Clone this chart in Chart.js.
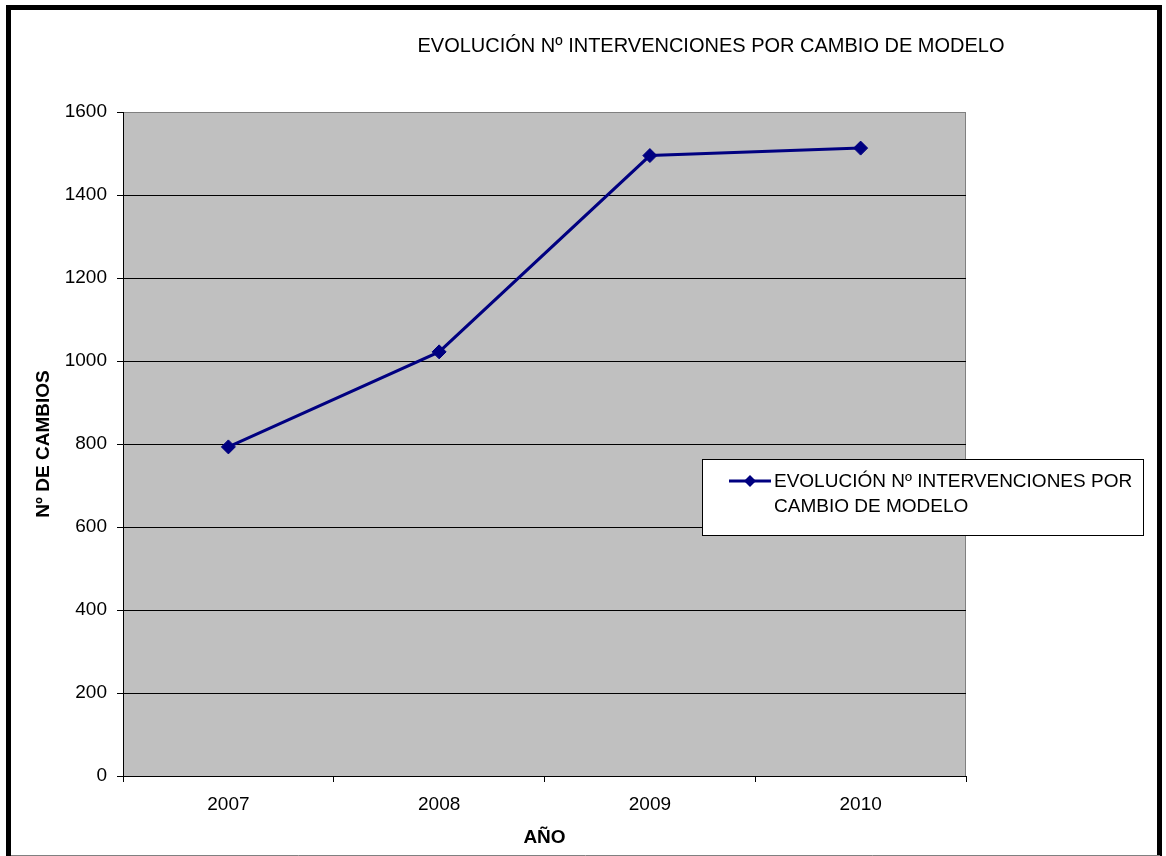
<!DOCTYPE html>
<html>
<head>
<meta charset="utf-8">
<script src="https://cdn.jsdelivr.net/npm/chart.js@4/dist/chart.umd.min.js"></script>
<style>
  html, body { margin: 0; padding: 0; background: #fff; }
  #wrap { width: 1166px; height: 856px; }
</style>
</head>
<body>
<div id="wrap"><canvas id="evolChart"></canvas></div>
<script>
const years = ["2007", "2008", "2009", "2010"];
const interventions = [793, 1022, 1495, 1513];
const yTicks = [0, 200, 400, 600, 800, 1000, 1200, 1400, 1600];

const chartTitle = "EVOLUCIÓN Nº INTERVENCIONES POR CAMBIO DE MODELO";
const seriesLabel = "EVOLUCIÓN Nº INTERVENCIONES POR CAMBIO DE MODELO";
const xTitle = "AÑO";
const yTitle = "Nº DE CAMBIOS";

const FONT = "'Liberation Sans', Arial, sans-serif";
const NAVY = "#000080";

// wrap a label into lines that fit maxWidth
function wrapText(ctx, text, maxWidth) {
  const words = text.split(" ");
  const lines = [];
  let line = "";
  for (const w of words) {
    const test = line ? line + " " + w : w;
    if (ctx.measureText(test).width > maxWidth && line) {
      lines.push(line);
      line = w;
    } else {
      line = test;
    }
  }
  if (line) lines.push(line);
  return lines;
}

// excel-like frame: white page, grey plot area, title, boxed legend
const excelFrame = {
  id: "excelFrame",
  beforeDraw(chart) {
    const { ctx, chartArea: a, width, height } = chart;
    ctx.save();
    ctx.fillStyle = "#fff";
    ctx.fillRect(0, 0, width, height);
    ctx.fillStyle = "#c0c0c0";
    ctx.fillRect(a.left, a.top, a.right - a.left, a.bottom - a.top);
    ctx.strokeStyle = "#808080";
    ctx.lineWidth = 1;
    ctx.strokeRect(a.left + 0.5, a.top + 0.5, a.right - a.left - 1, a.bottom - a.top);

    ctx.fillStyle = "#000";
    ctx.font = "20px " + FONT;
    ctx.textAlign = "center";
    ctx.textBaseline = "middle";
    ctx.fillText(chartTitle, 711, 46);
    ctx.restore();
  },
  afterDraw(chart) {
    const { ctx, width, height } = chart;
    const ds = chart.data.datasets[0];
    ctx.save();

    // legend box
    const bx = 702, by = 459, bw = 441, bh = 76;
    ctx.fillStyle = "#fff";
    ctx.fillRect(bx, by, bw, bh);
    ctx.strokeStyle = "#000";
    ctx.lineWidth = 1;
    ctx.strokeRect(bx + 0.5, by + 0.5, bw, bh);

    ctx.strokeStyle = ds.borderColor;
    ctx.lineWidth = 3;
    ctx.beginPath();
    ctx.moveTo(729, 481);
    ctx.lineTo(771, 481);
    ctx.stroke();
    const r = 6;
    ctx.fillStyle = ds.pointBackgroundColor;
    ctx.beginPath();
    ctx.moveTo(750, 481 - r);
    ctx.lineTo(750 + r, 481);
    ctx.lineTo(750, 481 + r);
    ctx.lineTo(750 - r, 481);
    ctx.closePath();
    ctx.fill();

    ctx.fillStyle = "#000";
    ctx.font = "19px " + FONT;
    ctx.textAlign = "left";
    ctx.textBaseline = "middle";
    wrapText(ctx, ds.label, 366).forEach((line, i) => {
      ctx.fillText(line, 774, 482 + i * 25);
    });

    // outer black frame
    ctx.strokeStyle = "#000";
    ctx.lineWidth = 5;
    ctx.strokeRect(8.5, 7.5, width - 15, height + 20);
    ctx.strokeStyle = "#808080";
    ctx.lineWidth = 1;
    ctx.beginPath();
    ctx.moveTo(11, height - 0.5);
    ctx.lineTo(width - 6, height - 0.5);
    ctx.stroke();
    ctx.restore();
  },
};

new Chart(document.getElementById("evolChart"), {
  type: "line",
  data: {
    labels: years,
    datasets: [
      {
        label: seriesLabel,
        data: interventions,
        borderColor: NAVY,
        borderWidth: 3,
        tension: 0,
        pointStyle: "rectRot",
        pointRadius: 7,
        pointBorderWidth: 1,
        pointBackgroundColor: NAVY,
        pointBorderColor: NAVY,
      },
    ],
  },
  plugins: [excelFrame],
  options: {
    responsive: true,
    maintainAspectRatio: false,
    animation: false,
    layout: { padding: { left: 26, top: 112, right: 200, bottom: 0 } },
    plugins: {
      legend: { display: false },
      title: { display: false },
      tooltip: { enabled: false },
    },
    scales: {
      x: {
        offset: true,
        afterFit: (s) => { s.height = 80; },
        grid: {
          offset: true,
          drawOnChartArea: false,
          drawTicks: true,
          tickLength: 6,
          tickColor: "#000",
        },
        border: { display: true, color: "#000", width: 1 },
        ticks: {
          color: "#000",
          font: { family: FONT, size: 19 },
          padding: 11,
          maxRotation: 0,
        },
        title: {
          display: true,
          text: xTitle,
          color: "#000",
          font: { family: FONT, size: 19, weight: "bold" },
          padding: { top: 0, bottom: 7 },
        },
      },
      y: {
        min: yTicks[0],
        max: yTicks[yTicks.length - 1],
        afterFit: (s) => { s.width = 97; },
        afterBuildTicks: (s) => { s.ticks = yTicks.map((v) => ({ value: v })); },
        grid: {
          color: (c) => (c.tick && c.tick.value === 1600 ? "#808080" : "#000"),
          lineWidth: 1,
          drawTicks: true,
          tickLength: 6,
          tickColor: "#000",
        },
        border: { display: true, color: "#000", width: 1 },
        ticks: {
          color: "#000",
          font: { family: FONT, size: 19 },
          padding: 10,
          callback: (v) => String(v),
        },
        title: {
          display: true,
          text: yTitle,
          color: "#000",
          font: { family: FONT, size: 19, weight: "bold" },
          padding: { top: 6, bottom: 0 },
        },
      },
    },
  },
});
</script>
</body>
</html>
